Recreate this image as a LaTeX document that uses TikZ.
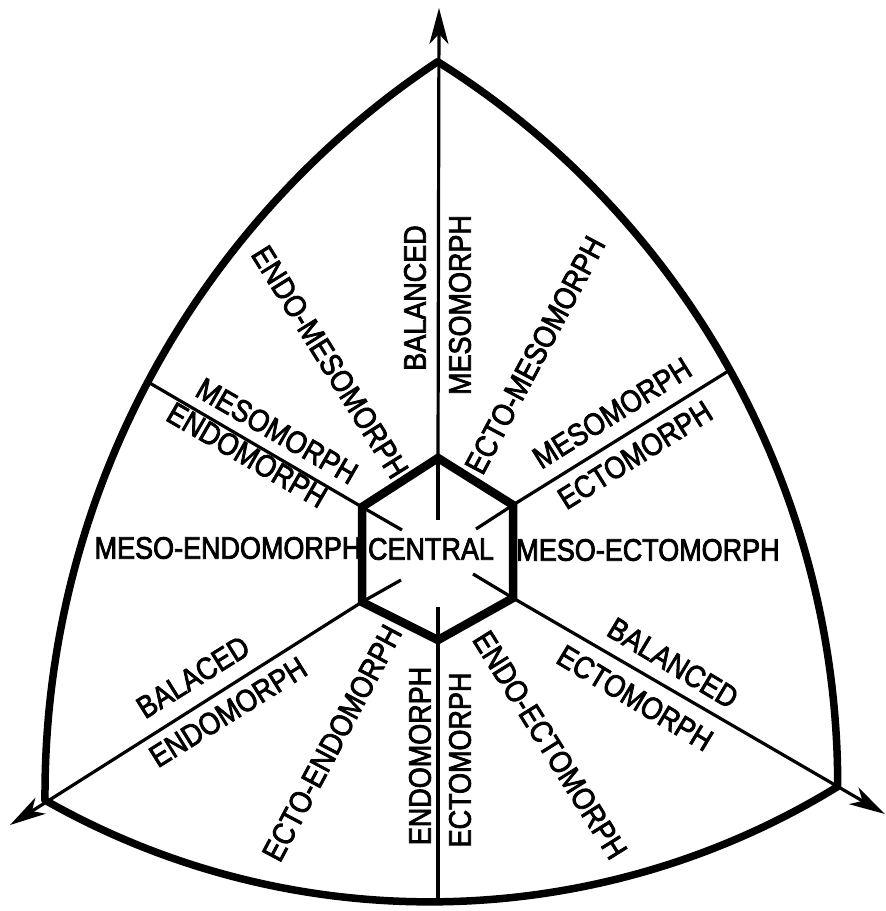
\documentclass[tikz,border=0pt]{standalone}
\usepackage{fontspec}
\setmainfont{Liberation Sans}[FakeStretch=0.87, FakeBold=2.5]
\usetikzlibrary{arrows.meta}

\tikzset{
  rim/.style={line width=7.5pt, line join=round},
  hexrim/.style={line width=8.5pt, line join=miter},
  axis/.style={line width=3.2pt},
  tip/.style={-{Stealth[length=36pt, width=19pt, inset=10pt]}},
  lbl/.style={inner sep=0pt, font=\fontsize{31}{31}\selectfont},
}

\begin{document}
\begin{tikzpicture}[x=1pt, y=-1pt]
\useasboundingbox (0,0) rectangle (886,911);
% outer corners and where the axes meet the rim
\coordinate (top) at (438,62);
\coordinate (bl) at (45,800);
\coordinate (br) at (838,787);
\coordinate (ulrim) at (148,382);
\coordinate (urrim) at (730,370);
\coordinate (botrim) at (438,902);
\coordinate (ntip) at (439,8);
\coordinate (swtip) at (10,825);
\coordinate (setip) at (885,814);
% hexagon
\coordinate (h1) at (438,458);
\coordinate (h2) at (513,505);
\coordinate (h3) at (513,598);
\coordinate (h4) at (438,640);
\coordinate (h5) at (362,602);
\coordinate (h6) at (362,507);
\coordinate (s1) at (438,520);
\coordinate (s2) at (476,529);
\coordinate (s3) at (473,574);
\coordinate (s4) at (438,607);
\coordinate (s5) at (401,580);
\coordinate (s6) at (402,530);
% rim
\draw[rim] (bl) arc[start angle=179.67, end angle=236.34, radius=881]
  arc[start angle=-57.85, end angle=0.07, radius=855]
  arc[start angle=58.43, end angle=119.63, radius=779] -- cycle;
% axes
\draw[axis, tip] (h1) -- (ntip);
\draw[axis, tip] (h5) -- (swtip);
\draw[axis, tip] (h3) -- (setip);
\draw[axis] (h4) -- (botrim);
\draw[axis] (h6) -- (ulrim);
\draw[axis] (h2) -- (urrim);
% spokes inside the hexagon
\draw[axis] (h1) -- (s1);
\draw[axis] (h2) -- (s2);
\draw[axis] (h3) -- (s3);
\draw[axis] (h4) -- (s4);
\draw[axis] (h5) -- (s5);
\draw[axis] (h6) -- (s6);
\draw[hexrim] (h1) -- (h2) -- (h3) -- (h4) -- (h5) -- (h6) -- cycle;
% labels
\node[lbl] (central) at (431,549) {CENTRAL};
\node[lbl] (mesoendo) at (228,548) {MESO-ENDOMORPH};
\node[lbl] (mesoecto) at (648,550) {MESO-ECTOMORPH};
\node[lbl, rotate=90] (balmeso) at (415,298) {BALANCED};
\node[lbl, rotate=90] (meso) at (460,305) {MESOMORPH};
\node[lbl, rotate=-58] (endomeso) at (330,362) {ENDO-MESOMORPH};
\node[lbl, rotate=62] (ectomeso) at (535,355) {ECTO-MESOMORPH};
\node[lbl, rotate=-30] (mesoul) at (277,431) {MESOMORPH};
\node[lbl, rotate=-30] (endoul) at (247,455) {ENDOMORPH};
\node[lbl, rotate=32] (mesour) at (612,413) {MESOMORPH};
\node[lbl, rotate=32] (ectour) at (635,455) {ECTOMORPH};
\node[lbl, rotate=32] (balendo) at (193,677) {BALACED};
\node[lbl, rotate=32] (endoll) at (228,712) {ENDOMORPH};
\node[lbl, rotate=62] (ectoendo) at (332,743) {ECTO-ENDOMORPH};
\node[lbl, rotate=90] (endo) at (420,756) {ENDOMORPH};
\node[lbl, rotate=90] (ecto) at (460,760) {ECTOMORPH};
\node[lbl, rotate=-58] (endoecto) at (550,745) {ENDO-ECTOMORPH};
\node[lbl, rotate=-31] (balecto) at (673,663) {BALANCED};
\node[lbl, rotate=-31] (ectolr) at (635,698) {ECTOMORPH};
\end{tikzpicture}
\end{document}
